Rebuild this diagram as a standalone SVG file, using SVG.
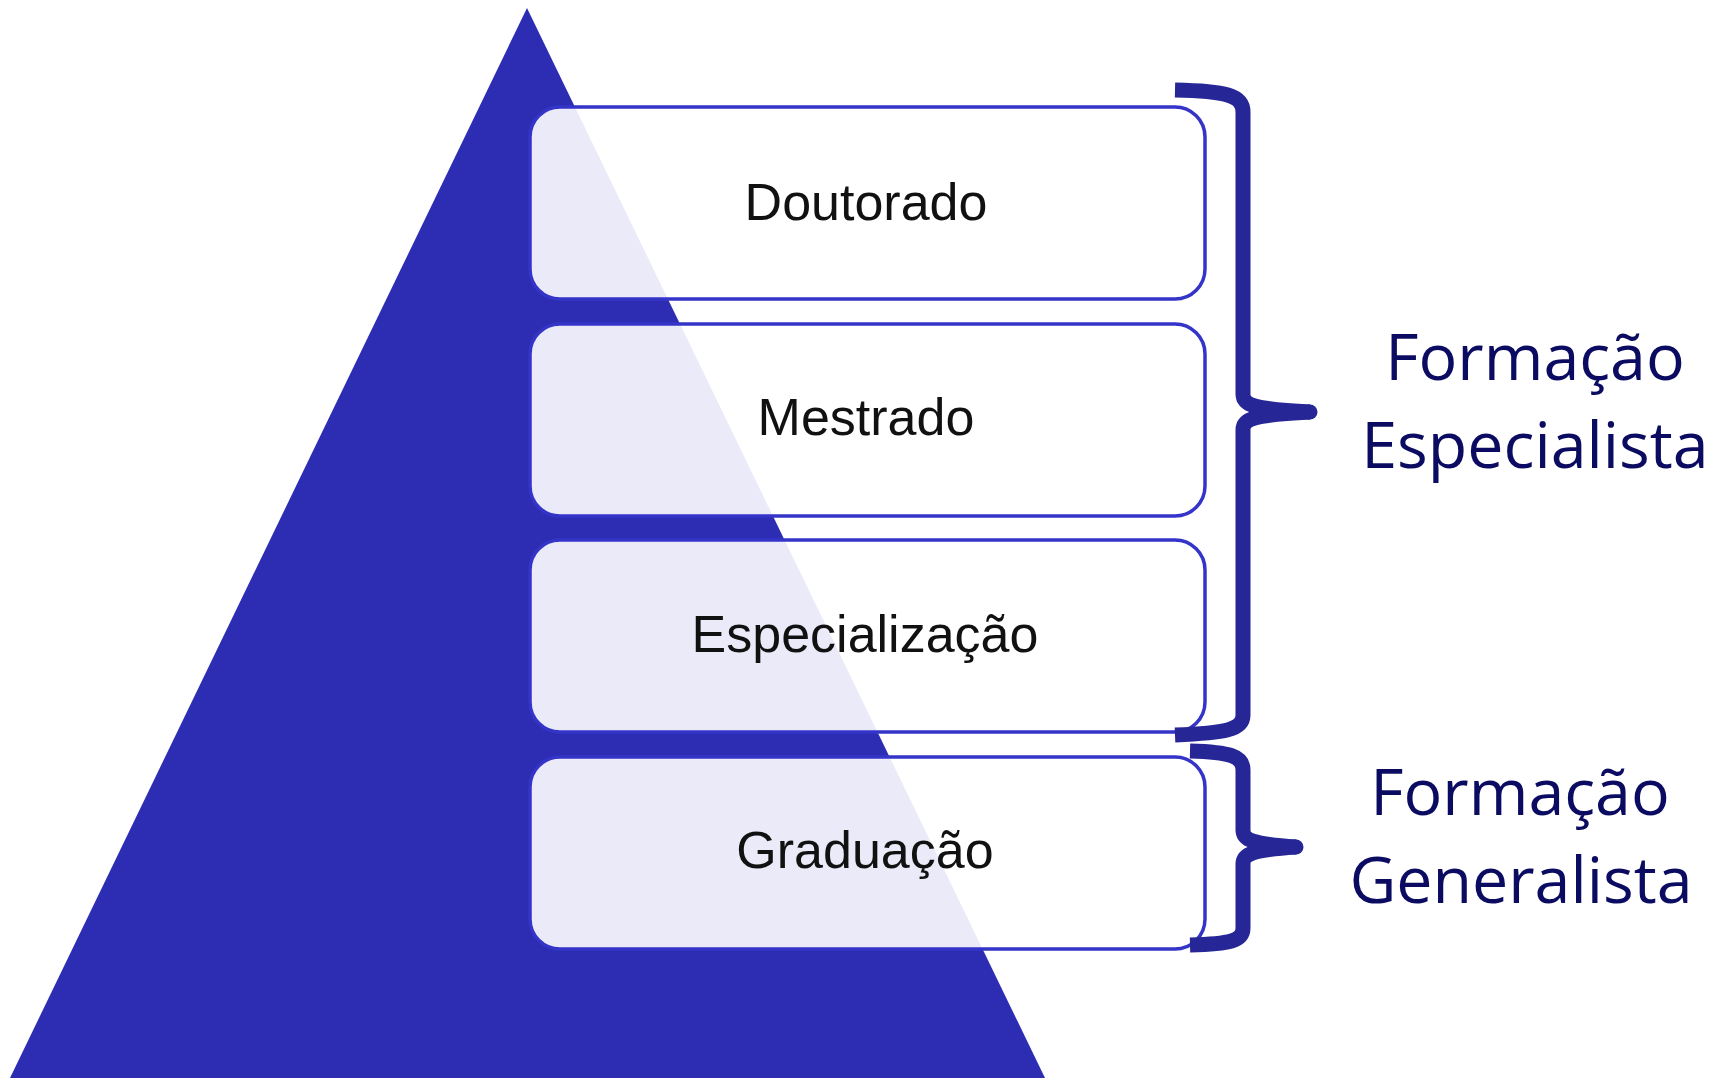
<svg xmlns="http://www.w3.org/2000/svg" width="1721" height="1081" viewBox="0 0 1721 1081">
  <style>
    .box { fill: #ffffff; fill-opacity: 0.9; stroke: #3434C8; stroke-width: 3.5; }
    .lbl { font-family: "Liberation Sans", Arial, sans-serif; font-size: 52px; fill: #111111; text-anchor: middle; }
    .brace { fill: none; stroke: #262696; stroke-width: 15; stroke-linecap: butt; stroke-linejoin: round; }
    .tip { fill: #262696; }
    .side { font-family: "Open Sans", "Noto Sans", sans-serif; font-size: 64.5px; fill: #0B0B62; text-anchor: middle; }
  </style>
  <rect x="0" y="0" width="1721" height="1081" fill="#ffffff"/>
  <g id="pyramid">
    <polygon points="527,8 1045,1078 10,1078" fill="#2D2DB4"/>
  </g>
  <g id="node-doutorado">
    <rect class="box" x="530" y="107" width="675" height="192" rx="30" ry="30"/>
    <text class="lbl" x="866" y="220">Doutorado</text>
  </g>
  <g id="node-mestrado">
    <rect class="box" x="530" y="324" width="675" height="192" rx="30" ry="30"/>
    <text class="lbl" x="866" y="435">Mestrado</text>
  </g>
  <g id="node-especializacao">
    <rect class="box" x="530" y="540" width="675" height="192" rx="30" ry="30"/>
    <text class="lbl" x="865" y="652">Especialização</text>
  </g>
  <g id="node-graduacao">
    <rect class="box" x="530" y="757" width="675" height="192" rx="30" ry="30"/>
    <text class="lbl" x="865" y="868">Graduação</text>
  </g>
  <g id="connectors">
    <path class="brace" d="M1175,90 C1225,91 1243,95 1243,112 L1243,394 C1243,405 1252,409 1310,412"/>
    <path class="brace" d="M1310,412 C1252,415 1243,419 1243,430 L1243,715 C1243,730 1225,733 1175,735"/>
    <circle class="tip" cx="1310" cy="412" r="7.5"/>
    <path class="brace" d="M1190,751 C1230,752 1243,756 1243,770 L1243,830 C1243,840 1252,844 1296,847"/>
    <path class="brace" d="M1296,847 C1252,850 1243,854 1243,864 L1243,928 C1243,941 1230,944 1190,945"/>
    <circle class="tip" cx="1296" cy="847" r="7.5"/>
  </g>
  <g id="label-especialista">
    <text class="side" x="1535" y="380">Formação</text>
    <text class="side" x="1535" y="468">Especialista</text>
  </g>
  <g id="label-generalista">
    <text class="side" x="1520" y="815">Formação</text>
    <text class="side" x="1521" y="903">Generalista</text>
  </g>
</svg>
